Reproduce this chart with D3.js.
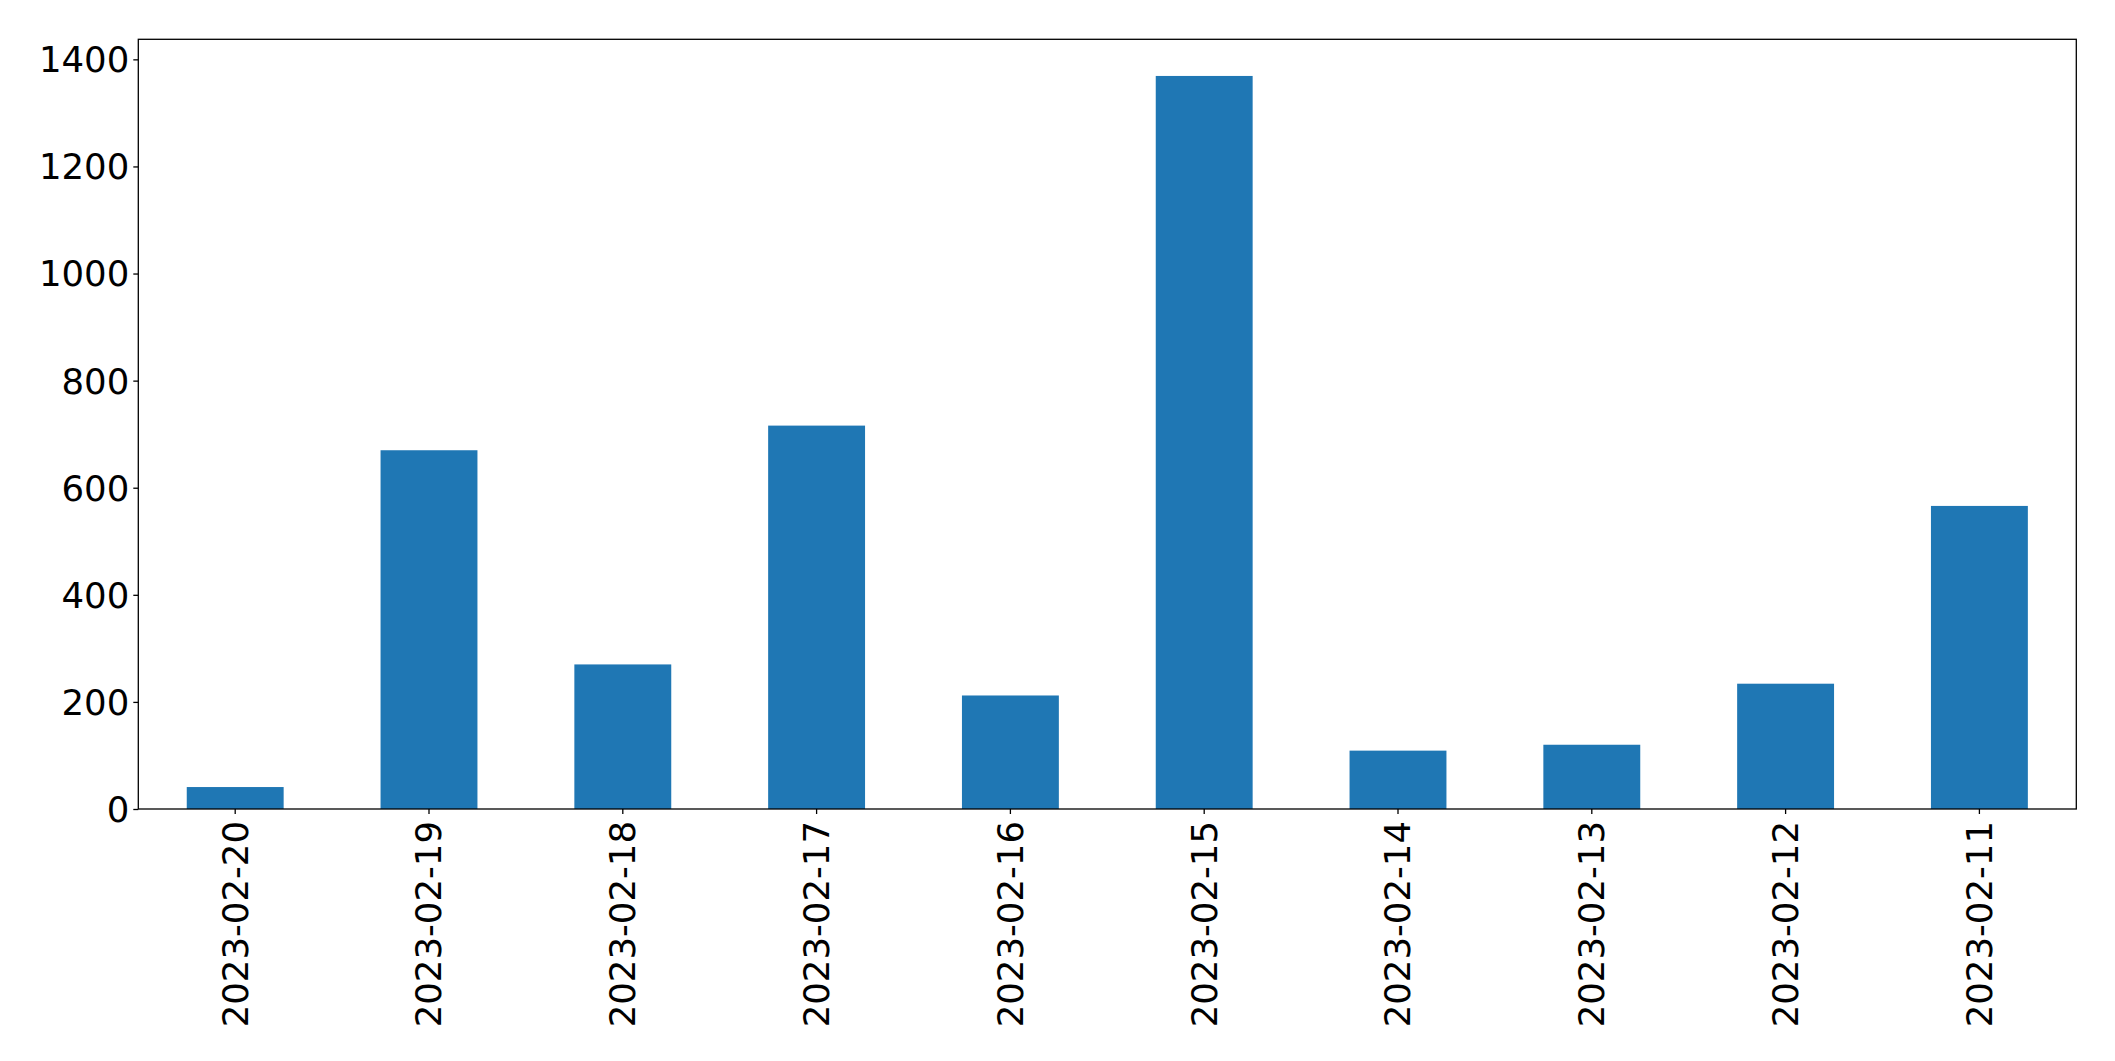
<!DOCTYPE html>
<html>
<head>
<meta charset="utf-8">
<script src="https://cdn.jsdelivr.net/npm/d3@7"></script>
<style>
  html, body { margin: 0; padding: 0; background: #fff; }
  svg { display: block; }
  .tick text { font-family: "DejaVu Sans", sans-serif; font-size: 35.5px; fill: #000; }
</style>
</head>
<body>
<script>
const categories = ["2023-02-20","2023-02-19","2023-02-18","2023-02-17","2023-02-16","2023-02-15","2023-02-14","2023-02-13","2023-02-12","2023-02-11"];
const values = [41, 670, 270, 716, 212, 1369, 109, 120, 234, 566];
const yTicks = [0, 200, 400, 600, 800, 1000, 1200, 1400];

const W = 2115, H = 1061;
const mLeft = 138.3, mRight = 2076.3, mTop = 39.3, mBottom = 809;

const svg = d3.select("body").append("svg").attr("width", W).attr("height", H);

const x = d3.scaleBand().domain(categories).range([mLeft, mRight]).paddingInner(0.5).paddingOuter(0.25);
const yMax = d3.max(values) * 1.05;
const y = d3.scaleLinear().domain([0, yMax]).range([mBottom, mTop]);

svg.append("g").selectAll("rect").data(values).join("rect")
  .attr("x", (d, i) => x(categories[i]))
  .attr("y", d => y(d))
  .attr("width", x.bandwidth())
  .attr("height", d => y(0) - y(d))
  .attr("fill", "#1f77b4");

const yAxis = svg.append("g").attr("transform", `translate(${mLeft},0)`)
  .call(d3.axisLeft(y).tickValues(yTicks).tickSize(5).tickPadding(4).tickFormat(d3.format("d")));
yAxis.select(".domain").remove();
yAxis.selectAll(".tick line").attr("stroke", "#000").attr("stroke-width", 1.3);
yAxis.selectAll(".tick text").attr("dy", "0.35em");

const xAxis = svg.append("g").attr("transform", `translate(0,${mBottom})`)
  .call(d3.axisBottom(x).tickSize(5).tickPadding(7));
xAxis.select(".domain").remove();
xAxis.selectAll(".tick line").attr("stroke", "#000").attr("stroke-width", 1.3);
xAxis.selectAll(".tick text")
  .attr("transform", "rotate(-90)")
  .attr("text-anchor", "end")
  .attr("x", -12)
  .attr("y", 0)
  .attr("dy", "0.35em");

svg.append("rect")
  .attr("x", mLeft).attr("y", mTop)
  .attr("width", mRight - mLeft).attr("height", mBottom - mTop)
  .attr("fill", "none").attr("stroke", "#000").attr("stroke-width", 1.3);
</script>
</body>
</html>
